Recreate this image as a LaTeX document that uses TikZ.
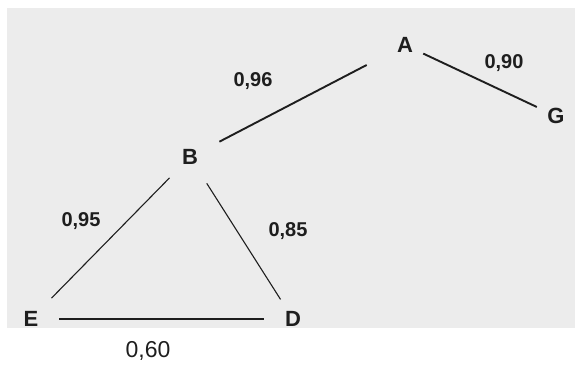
\documentclass[tikz,border=0pt]{standalone}
\usepackage{fontspec}
\setmainfont{Liberation Sans}
\definecolor{scangray}{RGB}{236,236,236}
\definecolor{inkgray}{RGB}{30,30,30}

\begin{document}
\begin{tikzpicture}[x=1pt,y=-1pt,
  vertex/.style={circle, inner sep=0pt, minimum size=36pt, text=inkgray,
                 font=\fontsize{22}{22}\selectfont\bfseries},
  weight/.style={inner sep=0pt, text=inkgray, font=\fontsize{20}{20}\selectfont\bfseries},
  link/.style={line width=1.9pt, inkgray},
  thinlink/.style={line width=1.1pt, inkgray}]
  \useasboundingbox (0,0) rectangle (575,365);
  \fill[scangray] (7,8) rectangle (575,328);
  % vertices
  \node[vertex](A) at (405,45){A};
  \node[vertex](G) at (556,116){G};
  \node[vertex](B) at (190,157){B};
  \node[vertex](E) at (31,319){E};
  \node[vertex](D) at (293,319){D};
  % edges
  \draw[link,shorten <=15pt,shorten >=25pt](B)--(A);
  \draw[link,shorten <=2pt,shorten >=3pt](A)--(G);
  \draw[thinlink,shorten <=11pt,shorten >=11pt](B)--(E);
  \draw[thinlink,shorten <=13pt,shorten >=5pt](B)--(D);
  \draw[link,shorten <=10pt,shorten >=11pt](E)--(D);
  % weights
  \node[weight](wAB) at (253,81){0,96};
  \node[weight](wAG) at (504,63){0,90};
  \node[weight](wBE) at (81,221){0,95};
  \node[weight](wBD) at (288,231){0,85};
  \node[inner sep=0pt, text=inkgray, font=\fontsize{23}{23}\selectfont](wED) at (148,351){0,60};
\end{tikzpicture}
\end{document}
